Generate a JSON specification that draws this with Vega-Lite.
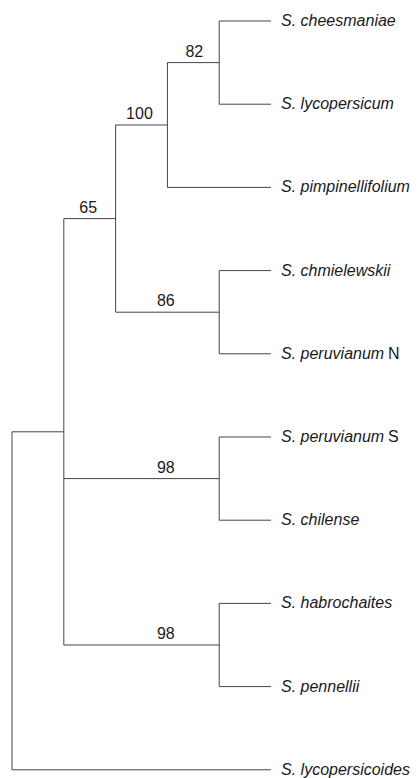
{
  "$schema": "https://vega.github.io/schema/vega-lite/v6.json",
  "width": 419,
  "height": 778,
  "padding": 0,
  "autosize": "none",
  "background": "white",
  "config": {"view": {"stroke": null}},
  "datasets": {
    "segments": [
      {"x1": 4, "x2": 5, "y1": 0, "y2": 0},
      {"x1": 4, "x2": 5, "y1": 1, "y2": 1},
      {"x1": 3, "x2": 5, "y1": 2, "y2": 2},
      {"x1": 4, "x2": 5, "y1": 3, "y2": 3},
      {"x1": 4, "x2": 5, "y1": 4, "y2": 4},
      {"x1": 4, "x2": 5, "y1": 5, "y2": 5},
      {"x1": 4, "x2": 5, "y1": 6, "y2": 6},
      {"x1": 4, "x2": 5, "y1": 7, "y2": 7},
      {"x1": 4, "x2": 5, "y1": 8, "y2": 8},
      {"x1": 0, "x2": 5, "y1": 9, "y2": 9},
      {"x1": 3, "x2": 4, "y1": 0.5, "y2": 0.5},
      {"x1": 2, "x2": 3, "y1": 1.25, "y2": 1.25},
      {"x1": 2, "x2": 4, "y1": 3.5, "y2": 3.5},
      {"x1": 1, "x2": 2, "y1": 2.375, "y2": 2.375},
      {"x1": 1, "x2": 4, "y1": 5.5, "y2": 5.5},
      {"x1": 1, "x2": 4, "y1": 7.5, "y2": 7.5},
      {"x1": 0, "x2": 1, "y1": 4.9375, "y2": 4.9375},
      {"x1": 4, "x2": 4, "y1": 0, "y2": 1},
      {"x1": 3, "x2": 3, "y1": 0.5, "y2": 2},
      {"x1": 4, "x2": 4, "y1": 3, "y2": 4},
      {"x1": 2, "x2": 2, "y1": 1.25, "y2": 3.5},
      {"x1": 4, "x2": 4, "y1": 5, "y2": 6},
      {"x1": 4, "x2": 4, "y1": 7, "y2": 8},
      {"x1": 1, "x2": 1, "y1": 2.375, "y2": 7.5},
      {"x1": 0, "x2": 0, "y1": 4.9375, "y2": 9}
    ],
    "tips": [
      {"x": 5, "y": 0, "name": "S. cheesmaniae", "suffix": ""},
      {"x": 5, "y": 1, "name": "S. lycopersicum", "suffix": ""},
      {"x": 5, "y": 2, "name": "S. pimpinellifolium", "suffix": ""},
      {"x": 5, "y": 3, "name": "S. chmielewskii", "suffix": ""},
      {"x": 5, "y": 4, "name": "S. peruvianum", "suffix": "N"},
      {"x": 5, "y": 5, "name": "S. peruvianum", "suffix": "S"},
      {"x": 5, "y": 6, "name": "S. chilense", "suffix": ""},
      {"x": 5, "y": 7, "name": "S. habrochaites", "suffix": ""},
      {"x": 5, "y": 8, "name": "S. pennellii", "suffix": ""},
      {"x": 5, "y": 9, "name": "S. lycopersicoides", "suffix": ""}
    ],
    "support": [
      {"x": 3.52, "y": 0.5, "value": "82"},
      {"x": 2.46, "y": 1.25, "value": "100"},
      {"x": 1.47, "y": 2.375, "value": "65"},
      {"x": 2.97, "y": 3.5, "value": "86"},
      {"x": 2.97, "y": 5.5, "value": "98"},
      {"x": 2.97, "y": 7.5, "value": "98"}
    ]
  },
  "layer": [
    {
      "data": {"name": "segments"},
      "mark": {"type": "rule", "color": "#444444", "strokeWidth": 1},
      "encoding": {
        "x": {"field": "x1", "type": "quantitative", "scale": {"domain": [-0.232, 7.857], "nice": false, "zero": false}, "axis": null},
        "x2": {"field": "x2"},
        "y": {"field": "y1", "type": "quantitative", "scale": {"domain": [-0.2524, 9.0986], "nice": false, "zero": false, "reverse": true}, "axis": null},
        "y2": {"field": "y2"}
      }
    },
    {
      "data": {"name": "tips"},
      "mark": {"type": "text", "align": "left", "baseline": "alphabetic", "dx": 10, "dy": 5, "font": "Liberation Sans", "fontStyle": "italic", "fontSize": 16, "color": "#1a1a1a"},
      "encoding": {
        "x": {"field": "x", "type": "quantitative"},
        "y": {"field": "y", "type": "quantitative"},
        "text": {"field": "name"}
      }
    },
    {
      "data": {"name": "tips"},
      "mark": {"type": "text", "align": "left", "baseline": "alphabetic", "dx": 117, "dy": 5, "font": "Liberation Sans", "fontSize": 16, "color": "#1a1a1a"},
      "encoding": {
        "x": {"field": "x", "type": "quantitative"},
        "y": {"field": "y", "type": "quantitative"},
        "text": {"field": "suffix"}
      }
    },
    {
      "data": {"name": "support"},
      "mark": {"type": "text", "align": "center", "baseline": "alphabetic", "dy": -6, "font": "Liberation Sans", "fontSize": 16, "color": "#1a1a1a"},
      "encoding": {
        "x": {"field": "x", "type": "quantitative"},
        "y": {"field": "y", "type": "quantitative"},
        "text": {"field": "value"}
      }
    }
  ]
}
